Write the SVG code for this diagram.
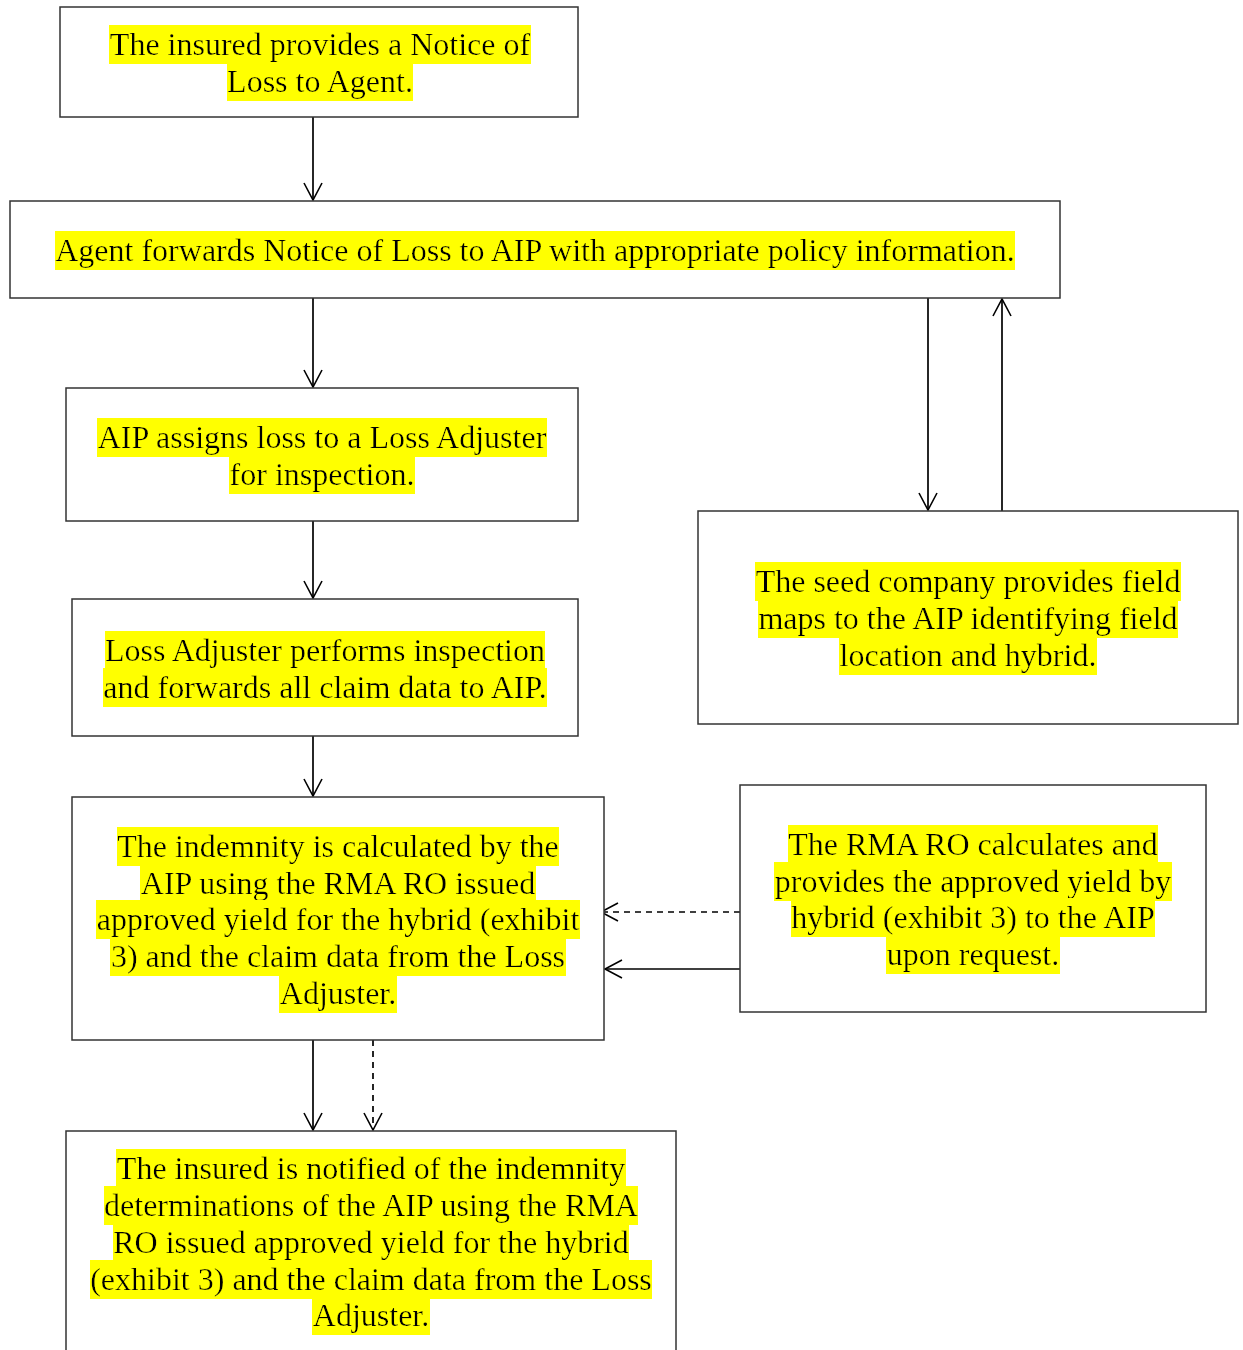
<svg xmlns="http://www.w3.org/2000/svg" width="1243" height="1350" viewBox="0 0 1243 1350">
<defs>
<filter id="hl" x="0" y="-0.02" width="1" height="1.05">
<feFlood flood-color="#ffff00"/>
<feComposite in="SourceGraphic" operator="over"/>
</filter>
<marker id="arr" viewBox="0 0 20 20" refX="18" refY="10" markerWidth="20" markerHeight="20" markerUnits="userSpaceOnUse" orient="auto">
<path d="M1,1 L18,10 L1,19" fill="none" stroke="#000" stroke-width="1.6"/>
</marker>
</defs>
<style>
.box{fill:#fff;stroke:#333;stroke-width:1.5}
.t{font-family:"Liberation Serif","Times New Roman",serif;font-size:32px;fill:#000;text-anchor:middle;filter:url(#hl)}
.c{fill:none;stroke:#000;stroke-width:1.7;marker-end:url(#arr)}
.d{stroke-dasharray:6,5}
</style>
<rect width="1243" height="1350" fill="#fff"/>
<g id="connectors">
<line class="c" x1="313" y1="117" x2="313" y2="200"/>
<line class="c" x1="313" y1="298" x2="313" y2="387"/>
<line class="c" x1="313" y1="521" x2="313" y2="598"/>
<line class="c" x1="313" y1="736" x2="313" y2="796"/>
<line class="c" x1="928" y1="298" x2="928" y2="510"/>
<line class="c" x1="1002" y1="511" x2="1002" y2="299"/>
<line class="c d" x1="740" y1="912" x2="601" y2="912"/>
<line class="c" x1="740" y1="969" x2="605" y2="969"/>
<line class="c" x1="313" y1="1040" x2="313" y2="1130"/>
<line class="c d" x1="373" y1="1040" x2="373" y2="1130"/>
</g>
<g id="n1">
<rect class="box" x="60" y="7" width="518" height="110"/>
<text class="t" x="320" y="55">The insured provides a Notice of</text>
<text class="t" x="320" y="92">Loss to Agent.</text>
</g>
<g id="n2">
<rect class="box" x="10" y="201" width="1050" height="97"/>
<text class="t" x="535" y="261">Agent forwards Notice of Loss to AIP with appropriate policy information.</text>
</g>
<g id="n3">
<rect class="box" x="66" y="388" width="512" height="133"/>
<text class="t" x="322" y="448">AIP assigns loss to a Loss Adjuster</text>
<text class="t" x="322" y="485">for inspection.</text>
</g>
<g id="n4">
<rect class="box" x="72" y="599" width="506" height="137"/>
<text class="t" x="325" y="661">Loss Adjuster performs inspection</text>
<text class="t" x="325" y="698">and forwards all claim data to AIP.</text>
</g>
<g id="n5">
<rect class="box" x="72" y="797" width="532" height="243"/>
<text class="t" x="338" y="857">The indemnity is calculated by the</text>
<text class="t" x="338" y="894">AIP using the RMA RO issued</text>
<text class="t" x="338" y="930">approved yield for the hybrid (exhibit</text>
<text class="t" x="338" y="967">3) and the claim data from the Loss</text>
<text class="t" x="338" y="1004">Adjuster.</text>
</g>
<g id="n6">
<rect class="box" x="698" y="511" width="540" height="213"/>
<text class="t" x="968" y="592">The seed company provides field</text>
<text class="t" x="968" y="629">maps to the AIP identifying field</text>
<text class="t" x="968" y="666">location and hybrid.</text>
</g>
<g id="n7">
<rect class="box" x="740" y="785" width="466" height="227"/>
<text class="t" x="973" y="855">The RMA RO calculates and</text>
<text class="t" x="973" y="892">provides the approved yield by</text>
<text class="t" x="973" y="928">hybrid (exhibit 3) to the AIP</text>
<text class="t" x="973" y="965">upon request.</text>
</g>
<g id="n8">
<rect class="box" x="66" y="1131" width="610" height="240"/>
<text class="t" x="371" y="1179">The insured is notified of the indemnity</text>
<text class="t" x="371" y="1216">determinations of the AIP using the RMA</text>
<text class="t" x="371" y="1253">RO issued approved yield for the hybrid</text>
<text class="t" x="371" y="1290">(exhibit 3) and the claim data from the Loss</text>
<text class="t" x="371" y="1326">Adjuster.</text>
</g>
</svg>
